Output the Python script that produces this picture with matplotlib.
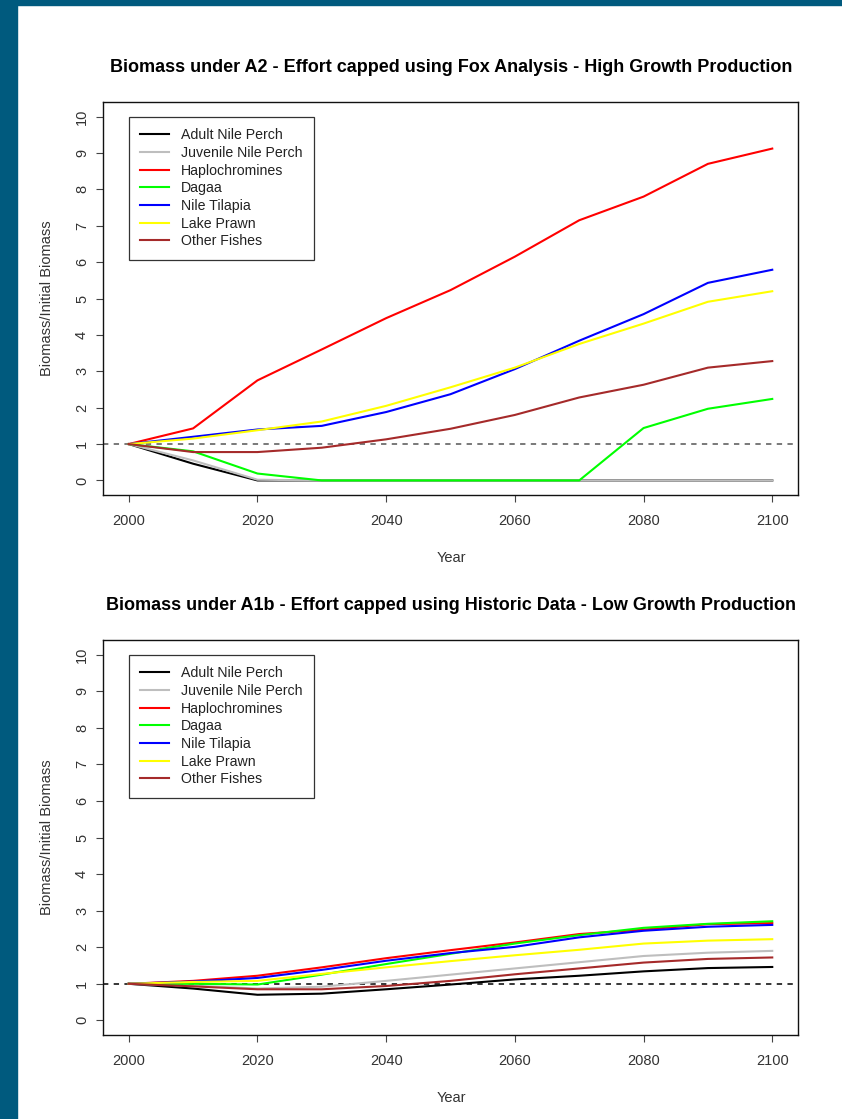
import numpy as np
import matplotlib
matplotlib.use("Agg")
import matplotlib.pyplot as plt
from matplotlib.patches import Rectangle

plt.rcParams['font.family'] = ['Liberation Sans', 'DejaVu Sans']

years = [2000, 2010, 2020, 2030, 2040, 2050, 2060, 2070, 2080, 2090, 2100]
groups = ["Adult Nile Perch", "Juvenile Nile Perch", "Haplochromines", "Dagaa",
          "Nile Tilapia", "Lake Prawn", "Other Fishes"]
colors = ["black", "#BEBEBE", "red", "#00FF00", "blue", "#FFFF00", "#A52A2A"]

# scenario A2, Fox analysis, high growth
a2_adult_perch = [1, 0.46, 0.0, 0, 0, 0, 0, 0, 0, 0, 0]
a2_juv_perch = [1, 0.55, 0.02, 0, 0, 0, 0, 0, 0, 0, 0]
a2_haplo = [1, 1.43, 2.75, 3.6, 4.46, 5.23, 6.15, 7.15, 7.8, 8.7, 9.12]
a2_dagaa = [1, 0.8, 0.19, 0, 0, 0, 0, 0, 1.44, 1.97, 2.24]
a2_tilapia = [1, 1.2, 1.4, 1.5, 1.88, 2.37, 3.06, 3.84, 4.57, 5.43, 5.79]
a2_prawn = [1, 1.15, 1.38, 1.62, 2.05, 2.56, 3.1, 3.75, 4.31, 4.91, 5.2]
a2_other = [1, 0.78, 0.78, 0.9, 1.13, 1.42, 1.8, 2.28, 2.63, 3.1, 3.28]

# scenario A1b, historic data, low growth
a1b_adult_perch = [1, 0.87, 0.70, 0.73, 0.85, 0.98, 1.12, 1.22, 1.34, 1.43, 1.46]
a1b_juv_perch = [1, 0.95, 0.87, 0.92, 1.08, 1.25, 1.42, 1.59, 1.76, 1.85, 1.90]
a1b_haplo = [1, 1.08, 1.22, 1.45, 1.70, 1.92, 2.13, 2.36, 2.48, 2.63, 2.66]
a1b_dagaa = [1, 1.0, 0.98, 1.25, 1.54, 1.82, 2.10, 2.33, 2.53, 2.64, 2.71]
a1b_tilapia = [1, 1.06, 1.16, 1.38, 1.63, 1.84, 2.01, 2.27, 2.45, 2.56, 2.61]
a1b_prawn = [1, 1.05, 1.08, 1.27, 1.45, 1.62, 1.78, 1.93, 2.10, 2.18, 2.22]
a1b_other = [1, 0.93, 0.85, 0.85, 0.94, 1.08, 1.26, 1.42, 1.58, 1.68, 1.72]

top_series = [a2_adult_perch, a2_juv_perch, a2_haplo, a2_dagaa, a2_tilapia, a2_prawn, a2_other]
bottom_series = [a1b_adult_perch, a1b_juv_perch, a1b_haplo, a1b_dagaa, a1b_tilapia, a1b_prawn, a1b_other]

W, H = 842, 1119
fig = plt.figure(figsize=(W / 100, H / 100), dpi=100)
fig.patch.set_facecolor("white")

# dark frame along the left and top edges
frame_col = "#005A7E"
fig.patches.append(Rectangle((0, 0), 17 / W, 1, transform=fig.transFigure, color=frame_col, zorder=0))
fig.patches.append(Rectangle((0, 1 - 5 / H), 1, 5 / H, transform=fig.transFigure, color=frame_col, zorder=0))


def panel(top_px, bottom_px, series, title, title_px, ref_col):
    ax = fig.add_axes([103 / W, 1 - bottom_px / H, 695 / W, (bottom_px - top_px) / H])
    for vals, col, name in zip(series, colors, groups):
        ax.plot(years, vals, color=col, lw=1.5, label=name, solid_joinstyle='round')
    ax.axhline(1, color=ref_col, lw=1.1, ls=(0, (3.5, 3.5)), zorder=1)

    ax.set_xlim(1996, 2104)
    ax.set_ylim(-0.4, 10.4)
    ax.set_xticks(range(2000, 2101, 20))
    ax.set_yticks(range(0, 11))
    ax.tick_params(axis='both', direction='out', length=5, width=0.8, color='#444444',
                   labelcolor='#333333', labelsize=10.5)
    ax.tick_params(axis='x', pad=9)
    ax.tick_params(axis='y', pad=5)
    for lab in ax.get_yticklabels():
        lab.set_rotation(90)
        lab.set_va('center')
    for s in ax.spines.values():
        s.set_linewidth(1.0)
        s.set_color('#111111')

    ax.text(-0.0806, 0.5, "Biomass/Initial Biomass", transform=ax.transAxes, rotation=90,
            ha='center', va='center', fontsize=10.5, color='#333333')
    ax.text(0.501, -63 / (bottom_px - top_px), "Year", transform=ax.transAxes,
            ha='center', va='center', fontsize=10.5, color='#333333')
    fig.text(451 / W, 1 - title_px / H, title, ha='center', va='center',
             fontsize=12.95, fontweight='bold', color='black')

    leg = ax.legend(loc='upper left', bbox_to_anchor=(26 / 695, 1 - 15 / (bottom_px - top_px)),
                    borderaxespad=0, fontsize=10.2, frameon=True, fancybox=False,
                    handlelength=2.0, handletextpad=0.85, borderpad=0.8, labelspacing=0.26)
    leg.get_frame().set_edgecolor('black')
    leg.get_frame().set_linewidth(0.9)
    for t in leg.get_texts():
        t.set_color('#222222')
    return ax


panel(102, 495, top_series,
      "Biomass under A2 - Effort capped using Fox Analysis - High Growth Production", 68, '#555555')
panel(640, 1035, bottom_series,
      "Biomass under A1b - Effort capped using Historic Data - Low Growth Production", 606, 'black')

fig.savefig("out.png", dpi=100)
